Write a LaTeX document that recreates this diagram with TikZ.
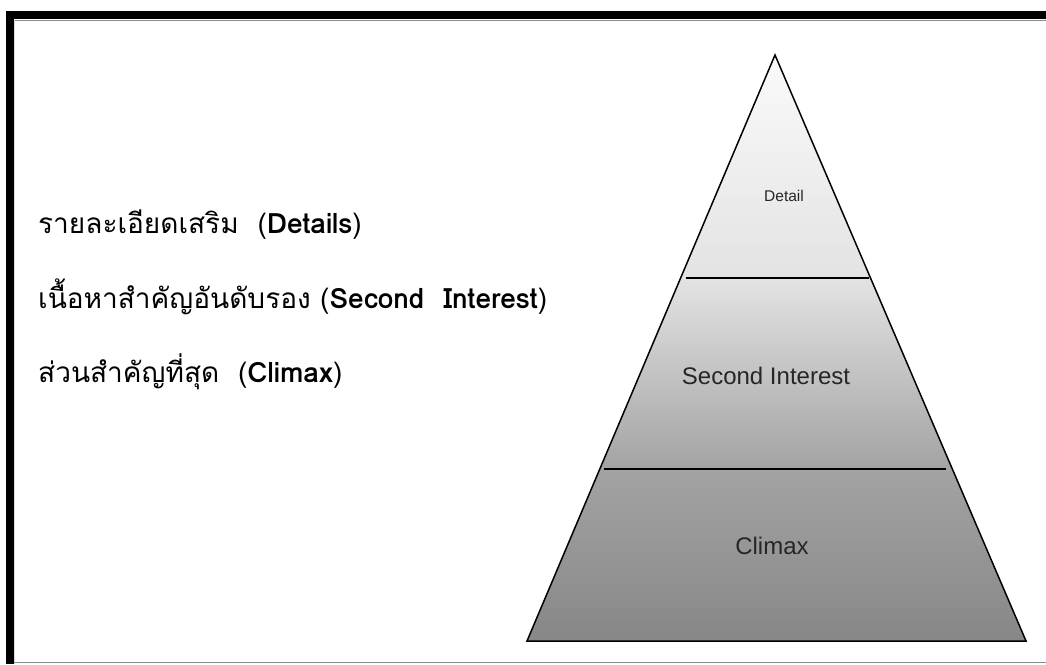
\documentclass[tikz,border=0pt]{standalone}
\usepackage{fontspec}
\setmainfont{Liberation Sans}
\newfontfamily\thaifont[Script=Thai]{Loma}
\definecolor{pyrC}{HTML}{878787}
\definecolor{pyrB}{HTML}{A3A3A3}
\definecolor{pyrA}{HTML}{E3E3E3}
\definecolor{pyrTop}{HTML}{FAFAFA}
\pgfdeclareverticalshading{pyramidfill}{100bp}{%
  color(0bp)=(pyrC);
  color(25bp)=(pyrC);
  color(39.7bp)=(pyrB);
  color(56bp)=(pyrA);
  color(75bp)=(pyrTop);
  color(100bp)=(pyrTop)}
\begin{document}
\begin{tikzpicture}[x=1pt,y=-1pt,
  legend/.style={anchor=base west, inner sep=0pt, font=\thaifont\fontsize{28}{32}\selectfont},
  tierlabel/.style={anchor=base, inner sep=0pt, text=black!85},
  tierline/.style={line width=2pt, black}]
  \useasboundingbox (0,0) rectangle (1046,664);
  \fill[white] (0,0) rectangle (1046,664);
  % page frame: thick bar on top and left, thin grey rule at the bottom
  \fill[black] (6,11) rectangle (1046,19);
  \fill[black] (6,11) rectangle (14,664);
  \draw[black!45, line width=0.8pt] (14,20) -- (1046,20);
  \draw[black!15, line width=0.8pt] (14.5,20) -- (14.5,664);
  \draw[black!45, line width=1.5pt] (14,662.5) -- (1046,662.5);
  % pyramid
  \coordinate (apex) at (775,55);
  \coordinate (bl) at (527,641);
  \coordinate (br) at (1026,641);
  \shade[shading=pyramidfill] (apex) -- (br) -- (bl) -- cycle;
  \coordinate (l1a) at (686,278);
  \coordinate (l1b) at (869,278);
  \coordinate (l2a) at (604,468.5);
  \coordinate (l2b) at (946,468.5);
  \draw[tierline] (l1a) -- (l1b);
  \draw[tierline] (l2a) -- (l2b);
  \draw[line width=1.5pt, line join=miter] (apex) -- (br) -- (bl) -- cycle;
  \node[tierlabel, font=\fontsize{15.5}{18}\selectfont] (detail) at (784,201) {Detail};
  \node[tierlabel, font=\fontsize{24}{28}\selectfont] (second) at (766,384) {Second Interest};
  \node[tierlabel, font=\fontsize{24}{28}\selectfont] (climax) at (772,554) {Climax};
  % legend on the left
  \node[legend] (t1) at (38,233) {รายละเอียดเสริม\ \ (\textbf{Details})};
  \node[legend] (t2) at (38,308) {เนื้อหาสำคัญอันดับรอง (\textbf{Second\ \ Interest})};
  \node[legend] (t3) at (38,382) {ส่วนสำคัญที่สุด\ \ (\textbf{Climax})};
\end{tikzpicture}
\end{document}
